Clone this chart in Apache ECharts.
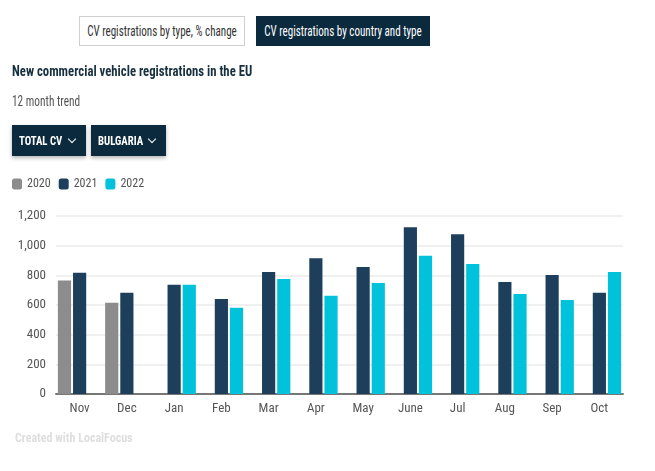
<!DOCTYPE html>
<html>
<head>
<meta charset="utf-8">
<script src="https://cdn.jsdelivr.net/npm/echarts@6/dist/echarts.min.js"></script>
<style>
  html, body { margin: 0; padding: 0; width: 655px; height: 471px; background: #fff; overflow: hidden; }
  body { font-family: "Roboto Condensed", Roboto, sans-serif; position: relative; }
  #chart { position: absolute; left: 0; top: 0; width: 655px; height: 471px; }
  .btn { position: absolute; box-sizing: border-box; height: 30px; font-size: 14px; white-space: nowrap; overflow: visible; }
  .btn span { position: absolute; left: 50%; top: 0; display: inline-block; transform-origin: center; transform: translateX(-50%) scaleX(0.79); }
  #b1 { left: 79px; top: 16px; width: 166px; border: 1px solid #cfcfcf; color: #333; background: #fff; }
  #b1 span { line-height: 28px; }
  #b2 { left: 256px; top: 16px; width: 174px; background: #0c2a3e; color: #fff; }
  #b2 span { line-height: 30px; }
  #title { position: absolute; left: 12px; top: 63px; font-size: 14.5px; font-weight: bold; color: #17303f; white-space: nowrap; transform: scaleX(0.88); transform-origin: left; }
  #sub { position: absolute; left: 12px; top: 93px; font-size: 14px; color: #555; white-space: nowrap; transform: scaleX(0.81); transform-origin: left; }
  .dd { position: absolute; top: 125px; height: 31px; line-height: 31px; background: #0c2a3e; color: #fff; font-size: 12.5px; font-weight: bold; box-shadow: 0 2px 4px rgba(0,0,0,0.3); white-space: nowrap; box-sizing: border-box; }
  .dd span.t { position: absolute; top: 0; left: 7px; display: inline-block; transform: scaleX(0.86); transform-origin: left; }
  #d1 { left: 12px; width: 74px; }
  #d2 { left: 91px; width: 75px; }
  .chev { position: absolute; top: 11px; width: 5px; height: 5px; border-right: 1.5px solid #fff; border-bottom: 1.5px solid #fff; transform: rotate(45deg); }
  #d1 .chev { left: 57px; }
  #d2 .chev { left: 58px; }
</style>
</head>
<body>
<div id="chart"></div>
<div class="btn" id="b1"><span>CV registrations by type, % change</span></div>
<div class="btn" id="b2"><span>CV registrations by country and type</span></div>
<div id="title">New commercial vehicle registrations in the EU</div>
<div id="sub">12 month trend</div>
<div class="dd" id="d1"><span class="t">TOTAL CV</span><span class="chev"></span></div>
<div class="dd" id="d2"><span class="t">BULGARIA</span><span class="chev"></span></div>
<script>
const categories = ["Nov", "Dec", "Jan", "Feb", "Mar", "Apr", "May", "June", "Jul", "Aug", "Sep", "Oct"];
const seriesNames = ["2020", "2021", "2022"];
const values2020 = [765, 615, null, null, null, null, null, null, null, null, null, null];
const values2021 = [818, 683, 736, 640, 822, 916, 857, 1124, 1077, 755, 802, 682];
const values2022 = [null, null, 736, 582, 776, 662, 748, 932, 876, 675, 634, 822];
const yTicks = [0, 200, 400, 600, 800, 1000, 1200];
const colors = ["#8c8c8c", "#1d3f5c", "#00c2da"];

const FONT = '"Roboto Condensed", Roboto, sans-serif';

const chart = echarts.init(document.getElementById('chart'), null, { renderer: 'canvas' });
const mk = (i, data) => ({
  name: seriesNames[i],
  type: 'bar',
  data: data,
  barGap: '15%',
  barCategoryGap: '8%',
  itemStyle: { color: colors[i] },
  emphasis: { disabled: true }
});
chart.setOption({
  animation: false,
  textStyle: { fontFamily: FONT },
  legend: {
    left: 12, top: 178, padding: 0,
    itemWidth: 10, itemHeight: 11, itemGap: 8,
    icon: 'roundRect',
    textStyle: { fontFamily: FONT, fontSize: 12, color: '#555' },
    data: seriesNames
  },
  grid: { left: 56, right: 32, top: 216, bottom: 77, containLabel: false },
  xAxis: {
    type: 'category',
    data: categories,
    axisLine: { lineStyle: { color: '#777', width: 2 } },
    axisTick: { show: false },
    axisLabel: { color: '#555', fontSize: 13, fontFamily: FONT, margin: 8 }
  },
  yAxis: {
    type: 'value',
    min: yTicks[0], max: yTicks[yTicks.length - 1], interval: yTicks[1] - yTicks[0],
    axisLine: { show: false },
    axisTick: { show: false },
    splitLine: { lineStyle: { color: '#ebebeb', width: 1.5 } },
    axisLabel: { color: '#555', fontSize: 13, fontFamily: FONT, margin: 10,
      formatter: v => v.toLocaleString('en-US') }
  },
  graphic: [{
    type: 'text', left: 15, top: 433,
    style: { text: 'Created with LocalFocus', fill: '#dedede', font: 'bold 12px ' + FONT }
  }],
  series: [mk(0, values2020), mk(1, values2021), mk(2, values2022)]
});
</script>
</body>
</html>
